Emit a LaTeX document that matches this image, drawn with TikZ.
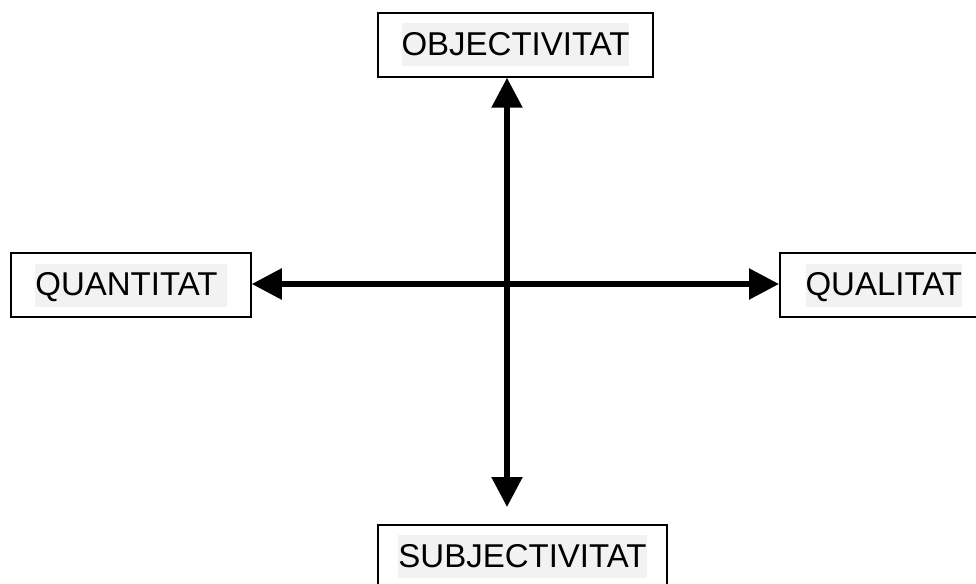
\documentclass[tikz,border=0pt]{standalone}
\usepackage{fontspec}
\setmainfont{Liberation Sans}
\usetikzlibrary{arrows.meta,calc}
\definecolor{HLGray}{HTML}{F2F2F2}
\newcommand{\hl}[1]{{\setlength{\fboxsep}{0pt}\colorbox{HLGray}{\rule[-11pt]{0pt}{43pt}#1}}}
\tikzset{
    block/.style = {draw, rectangle, line width=1.5pt,
        minimum height=64pt, inner xsep=20pt, inner ysep=10pt,
        font=\fontsize{33}{40}\selectfont},
    axis/.style = {draw, line width=5.5pt,
        {Triangle[length=30pt,width=30pt]}-{Triangle[length=30pt,width=30pt]}}
}

\begin{document}
\begin{tikzpicture}[x=1pt, y=1pt]
        \path[use as bounding box, clip] (0,0) rectangle (976,-583);

        \node [block, minimum width=275pt] (obj) at (515.5,-45) {\hl{OBJECTIVITAT}};
        \node [block, minimum width=240pt] (quan) at (131,-285) {\hl{QUANTITAT\ }};
        \node [block, minimum width=208pt, anchor=west] (qual) at (779,-285) {\hl{QUALITAT}};
        \node [block, minimum width=289pt, anchor=north] (sub) at (522.5,-524) {\hl{SUBJECTIVITAT}};
        \coordinate (center) at (507,-284);

        \draw [axis, shorten >=17pt] (obj.south -| center) -- (sub.north -| center);
        \draw [axis] (quan.east |- center) -- (qual.west |- center);
\end{tikzpicture}
\end{document}
